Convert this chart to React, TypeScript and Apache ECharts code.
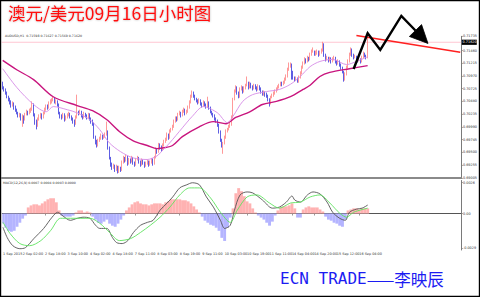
import React, { useEffect, useRef } from 'react';
import * as echarts from 'echarts';

// [open, close, low, high] hourly AUDUSD, 1 Sep 12:00 .. 16 Sep 10:00
const candles: number[][] = [
  [0.7081,0.7075,0.7071,0.7086],[0.7075,0.7071,0.7067,0.7077],[0.7071,0.7065,0.7061,0.7073],[0.7065,0.7057,0.7054,0.7067],[0.7057,0.7052,0.7048,0.7059],[0.7052,0.7046,0.7042,0.7055],[0.7046,0.7040,0.7036,0.7050],[0.7040,0.7044,0.7038,0.7048],[0.7044,0.7036,0.7032,0.7046],[0.7036,0.7032,0.7028,0.7040],
  [0.7032,0.7026,0.7023,0.7034],[0.7026,0.7021,0.7017,0.7028],[0.7021,0.7023,0.7017,0.7026],[0.7023,0.7017,0.7011,0.7025],[0.7017,0.7019,0.6999,0.7023],[0.7019,0.7013,0.7005,0.7021],[0.7013,0.7023,0.7011,0.7026],[0.7023,0.7028,0.7021,0.7032],[0.7028,0.7025,0.7021,0.7030],[0.7025,0.7030,0.7023,0.7034],
  [0.7030,0.7032,0.7026,0.7036],[0.7032,0.7042,0.7030,0.7048],[0.7042,0.7023,0.7019,0.7044],[0.7023,0.7009,0.7003,0.7025],[0.7009,0.7001,0.6994,0.7013],[0.7001,0.7013,0.6999,0.7017],[0.7013,0.7019,0.7011,0.7023],[0.7019,0.7023,0.7015,0.7026],[0.7023,0.7017,0.7013,0.7025],[0.7017,0.7025,0.7015,0.7028],
  [0.7025,0.7032,0.7023,0.7036],[0.7032,0.7038,0.7030,0.7042],[0.7038,0.7036,0.7032,0.7042],[0.7036,0.7044,0.7034,0.7048],[0.7044,0.7048,0.7042,0.7052],[0.7048,0.7050,0.7044,0.7054],[0.7050,0.7054,0.7048,0.7057],[0.7054,0.7046,0.7044,0.7055],[0.7046,0.7048,0.7042,0.7052],[0.7048,0.7042,0.7038,0.7050],
  [0.7042,0.7026,0.7023,0.7044],[0.7026,0.7019,0.7015,0.7028],[0.7019,0.7017,0.7013,0.7023],[0.7017,0.7023,0.7015,0.7026],[0.7023,0.7013,0.7009,0.7025],[0.7013,0.7017,0.7011,0.7021],[0.7017,0.7021,0.7015,0.7025],[0.7021,0.7025,0.7019,0.7028],[0.7025,0.7019,0.7015,0.7026],[0.7019,0.7015,0.7011,0.7021],
  [0.7015,0.7009,0.7005,0.7017],[0.7009,0.7005,0.6999,0.7013],[0.7005,0.7017,0.7003,0.7021],[0.7017,0.7026,0.7015,0.7061],[0.7026,0.7025,0.7021,0.7030],[0.7025,0.7028,0.7023,0.7032],[0.7028,0.7021,0.7017,0.7030],[0.7021,0.7017,0.7013,0.7023],[0.7017,0.7025,0.7015,0.7028],[0.7025,0.7021,0.7017,0.7026],
  [0.7021,0.7017,0.7013,0.7023],[0.7017,0.7023,0.7015,0.7026],[0.7023,0.7015,0.7011,0.7025],[0.7015,0.7009,0.7005,0.7017],[0.7009,0.7005,0.7001,0.7013],[0.7005,0.6980,0.6976,0.7007],[0.6980,0.6970,0.6965,0.6982],[0.6970,0.6963,0.6959,0.6974],[0.6963,0.6972,0.6961,0.6976],[0.6972,0.6976,0.6970,0.6980],
  [0.6976,0.6982,0.6974,0.6986],[0.6982,0.6978,0.6974,0.6984],[0.6978,0.6980,0.6976,0.6984],[0.6980,0.6984,0.6978,0.6988],[0.6984,0.6990,0.6982,0.7009],[0.6990,0.6959,0.6955,0.6992],[0.6959,0.6939,0.6936,0.6961],[0.6939,0.6926,0.6922,0.6941],[0.6926,0.6920,0.6916,0.6930],[0.6920,0.6924,0.6918,0.6928],
  [0.6924,0.6916,0.6912,0.6926],[0.6916,0.6922,0.6914,0.6926],[0.6922,0.6912,0.6909,0.6924],[0.6912,0.6920,0.6910,0.6924],[0.6920,0.6916,0.6912,0.6922],[0.6916,0.6930,0.6914,0.6934],[0.6930,0.6939,0.6928,0.6943],[0.6939,0.6934,0.6930,0.6941],[0.6934,0.6941,0.6932,0.6945],[0.6941,0.6928,0.6924,0.6943],
  [0.6928,0.6936,0.6926,0.6939],[0.6936,0.6932,0.6928,0.6938],[0.6932,0.6939,0.6930,0.6943],[0.6939,0.6930,0.6926,0.6941],[0.6930,0.6926,0.6922,0.6932],[0.6926,0.6936,0.6924,0.6939],[0.6936,0.6939,0.6934,0.6943],[0.6939,0.6932,0.6928,0.6941],[0.6932,0.6926,0.6922,0.6934],[0.6926,0.6934,0.6924,0.6938],
  [0.6934,0.6930,0.6926,0.6936],[0.6930,0.6924,0.6920,0.6932],[0.6924,0.6928,0.6922,0.6932],[0.6928,0.6932,0.6926,0.6936],[0.6932,0.6926,0.6922,0.6934],[0.6926,0.6930,0.6924,0.6934],[0.6930,0.6936,0.6928,0.6939],[0.6936,0.6928,0.6924,0.6938],[0.6928,0.6939,0.6926,0.6943],[0.6939,0.6955,0.6938,0.6959],
  [0.6955,0.6951,0.6947,0.6957],[0.6951,0.6965,0.6949,0.6968],[0.6965,0.6959,0.6955,0.6967],[0.6959,0.6955,0.6951,0.6963],[0.6955,0.6963,0.6953,0.6967],[0.6963,0.6970,0.6961,0.6974],[0.6970,0.6974,0.6968,0.6978],[0.6974,0.6984,0.6972,0.6988],[0.6984,0.6978,0.6974,0.6986],[0.6978,0.6990,0.6976,0.6994],
  [0.6990,0.6994,0.6988,0.6997],[0.6994,0.6999,0.6992,0.7003],[0.6999,0.7009,0.6997,0.7013],[0.7009,0.7015,0.7007,0.7019],[0.7015,0.7013,0.7009,0.7019],[0.7013,0.7023,0.7011,0.7026],[0.7023,0.7026,0.7021,0.7030],[0.7026,0.7021,0.7017,0.7028],[0.7021,0.7028,0.7019,0.7032],[0.7028,0.7032,0.7026,0.7036],
  [0.7032,0.7025,0.7021,0.7034],[0.7025,0.7028,0.7023,0.7032],[0.7028,0.7036,0.7026,0.7040],[0.7036,0.7046,0.7034,0.7050],[0.7046,0.7057,0.7044,0.7061],[0.7057,0.7065,0.7055,0.7069],[0.7065,0.7059,0.7055,0.7067],[0.7059,0.7054,0.7050,0.7061],[0.7054,0.7050,0.7046,0.7055],[0.7050,0.7046,0.7042,0.7052],
  [0.7046,0.7050,0.7044,0.7054],[0.7050,0.7044,0.7040,0.7052],[0.7044,0.7040,0.7036,0.7046],[0.7040,0.7046,0.7038,0.7050],[0.7046,0.7042,0.7038,0.7048],[0.7042,0.7038,0.7034,0.7044],[0.7038,0.7046,0.7036,0.7057],[0.7046,0.7036,0.7032,0.7048],[0.7036,0.7028,0.7025,0.7038],[0.7028,0.7025,0.7021,0.7030],
  [0.7025,0.7021,0.7017,0.7026],[0.7021,0.7015,0.7011,0.7023],[0.7015,0.7011,0.7007,0.7017],[0.7011,0.7003,0.6999,0.7013],[0.7003,0.6990,0.6986,0.7005],[0.6990,0.6974,0.6970,0.6992],[0.6974,0.6965,0.6959,0.6976],[0.6965,0.6967,0.6947,0.6970],[0.6967,0.6978,0.6965,0.6982],[0.6978,0.6990,0.6976,0.6994],
  [0.6990,0.6994,0.6988,0.6997],[0.6994,0.6999,0.6992,0.7003],[0.6999,0.7003,0.6997,0.7007],[0.7003,0.7017,0.7001,0.7021],[0.7017,0.7052,0.7015,0.7055],[0.7052,0.7067,0.7050,0.7071],[0.7067,0.7075,0.7065,0.7079],[0.7075,0.7065,0.7061,0.7077],[0.7065,0.7057,0.7054,0.7067],[0.7057,0.7071,0.7055,0.7075],
  [0.7071,0.7075,0.7069,0.7079],[0.7075,0.7067,0.7063,0.7077],[0.7067,0.7073,0.7065,0.7077],[0.7073,0.7079,0.7071,0.7082],[0.7079,0.7084,0.7077,0.7096],[0.7084,0.7075,0.7071,0.7086],[0.7075,0.7082,0.7073,0.7086],[0.7082,0.7077,0.7073,0.7084],[0.7077,0.7073,0.7069,0.7079],[0.7073,0.7079,0.7071,0.7082],
  [0.7079,0.7075,0.7071,0.7081],[0.7075,0.7071,0.7067,0.7077],[0.7071,0.7077,0.7069,0.7081],[0.7077,0.7073,0.7069,0.7079],[0.7073,0.7067,0.7063,0.7075],[0.7067,0.7063,0.7059,0.7069],[0.7063,0.7065,0.7059,0.7069],[0.7065,0.7061,0.7057,0.7067],[0.7061,0.7059,0.7055,0.7065],[0.7059,0.7052,0.7048,0.7061],
  [0.7052,0.7044,0.7038,0.7054],[0.7044,0.7055,0.7042,0.7059],[0.7055,0.7059,0.7054,0.7063],[0.7059,0.7063,0.7057,0.7067],[0.7063,0.7067,0.7061,0.7071],[0.7067,0.7071,0.7065,0.7075],[0.7071,0.7075,0.7069,0.7079],[0.7075,0.7079,0.7073,0.7082],[0.7079,0.7082,0.7077,0.7086],[0.7082,0.7081,0.7077,0.7086],
  [0.7081,0.7084,0.7079,0.7088],[0.7084,0.7090,0.7082,0.7094],[0.7090,0.7096,0.7088,0.7100],[0.7096,0.7109,0.7094,0.7113],[0.7109,0.7117,0.7107,0.7123],[0.7117,0.7119,0.7113,0.7123],[0.7119,0.7106,0.7090,0.7121],[0.7106,0.7094,0.7090,0.7107],[0.7094,0.7090,0.7086,0.7096],[0.7090,0.7092,0.7088,0.7096],
  [0.7092,0.7086,0.7084,0.7094],[0.7086,0.7094,0.7084,0.7098],[0.7094,0.7102,0.7092,0.7106],[0.7102,0.7113,0.7100,0.7117],[0.7113,0.7121,0.7111,0.7125],[0.7121,0.7129,0.7119,0.7133],[0.7129,0.7125,0.7121,0.7131],[0.7125,0.7133,0.7123,0.7136],[0.7133,0.7129,0.7125,0.7134],[0.7129,0.7138,0.7127,0.7142],
  [0.7138,0.7144,0.7136,0.7148],[0.7144,0.7148,0.7142,0.7152],[0.7148,0.7140,0.7136,0.7146],[0.7140,0.7142,0.7136,0.7146],[0.7142,0.7144,0.7138,0.7148],[0.7144,0.7138,0.7134,0.7146],[0.7138,0.7142,0.7136,0.7146],[0.7142,0.7146,0.7140,0.7150],[0.7146,0.7158,0.7144,0.7163],[0.7158,0.7138,0.7134,0.7160],
  [0.7138,0.7129,0.7125,0.7140],[0.7129,0.7133,0.7127,0.7136],[0.7133,0.7127,0.7123,0.7134],[0.7127,0.7131,0.7125,0.7134],[0.7131,0.7125,0.7121,0.7133],[0.7125,0.7129,0.7123,0.7133],[0.7129,0.7133,0.7127,0.7136],[0.7133,0.7125,0.7121,0.7134],[0.7125,0.7121,0.7117,0.7127],[0.7121,0.7125,0.7119,0.7129],
  [0.7125,0.7119,0.7115,0.7127],[0.7119,0.7113,0.7109,0.7121],[0.7113,0.7106,0.7102,0.7115],[0.7106,0.7090,0.7086,0.7107],[0.7090,0.7100,0.7088,0.7104],[0.7100,0.7113,0.7098,0.7117],[0.7113,0.7125,0.7111,0.7129],[0.7125,0.7138,0.7123,0.7142],[0.7138,0.7148,0.7136,0.7152],[0.7148,0.7138,0.7134,0.7150],
  [0.7138,0.7133,0.7129,0.7140],[0.7133,0.7134,0.7131,0.7138],[0.7134,0.7129,0.7125,0.7136],[0.7129,0.7127,0.7123,0.7133],[0.7127,0.7129,0.7125,0.7133],[0.7129,0.7125,0.7121,0.7131],[0.7125,0.7133,0.7123,0.7136],[0.7133,0.7140,0.7131,0.7144],[0.7140,0.7136,0.7133,0.7142],[0.7136,0.7133,0.7129,0.7138],
  [0.7133,0.7162,0.7131,0.7173],
];

// [bar index, value] read points of the moving averages
const slowMA: number[][] = [[0,0.7127],[10,0.7109],[22,0.709],[36,0.7057],[53,0.704],[64,0.703],[74,0.7013],[84,0.6988],[93,0.6972],[103,0.6963],[110,0.6957],[116,0.6959],[121,0.6963],[128,0.698],[140,0.6999],[150,0.7009],[159,0.7005],[166,0.7017],[176,0.7028],[185,0.7042],[195,0.7048],[205,0.7057],[214,0.7071],[219,0.7079],[226,0.7096],[233,0.7104],[247,0.7111],[260,0.7117]];
const fastMA: number[][] = [[0,0.7111],[10,0.7075],[22,0.7042],[31,0.7028],[36,0.7038],[46,0.7032],[53,0.7026],[62,0.7013],[69,0.6994],[76,0.6968],[84,0.6951],[93,0.6939],[103,0.6936],[110,0.6943],[113,0.6951],[119,0.6968],[128,0.6997],[135,0.7019],[143,0.7038],[153,0.7026],[160,0.7007],[164,0.7019],[171,0.7048],[178,0.7061],[188,0.7067],[197,0.7071],[205,0.7081],[212,0.7096],[219,0.7115],[226,0.7125],[235,0.7129],[245,0.7119],[252,0.7125],[260,0.7134]];

const macdMain: number[][] = [[0,-0.00116],[3,-0.00202],[7,-0.0027],[12,-0.00295],[16,-0.00286],[22,-0.0021],[29,-0.00125],[35,-0.00031],[39,0.00011],[42,-0.00014],[48,-0.00057],[53,-0.0004],[57,-0.00031],[62,-0.0004],[66,-0.00099],[69,-0.00125],[74,-0.00125],[78,-0.00201],[81,-0.00244],[85,-0.00252],[89,-0.00227],[93,-0.00159],[98,-0.00099],[103,-0.00074],[107,-0.00057],[112,0.00028],[117,0.00088],[121,0.00139],[126,0.00215],[131,0.00241],[135,0.00258],[140,0.00241],[145,0.00139],[150,0.00054],[155,-0.00057],[158,-0.00125],[162,-0.00099],[165,0.00028],[169,0.00156],[174,0.00181],[178,0.00173],[185,0.00113],[192,0.00045],[197,0.00054],[202,0.00096],[206,0.00147],[208,0.00113],[212,0.00096],[217,0.00156],[221,0.00181],[226,0.00164],[231,0.00096],[235,0.00011],[240,-0.0004],[244,-0.00057],[247,0.00011],[252,0.00037],[256,0.00045],[260,0.00071]];
const macdSignal: number[][] = [[0,-0.00074],[5,-0.00167],[12,-0.00252],[19,-0.0027],[27,-0.00227],[34,-0.00142],[41,-0.0004],[48,-0.0004],[55,-0.0004],[62,-0.0004],[69,-0.00082],[76,-0.00159],[83,-0.00227],[91,-0.0021],[98,-0.00159],[105,-0.00099],[112,-0.00031],[119,0.00054],[126,0.00156],[133,0.00215],[140,0.00215],[148,0.0013],[155,0.00011],[162,-0.00074],[167,0.00028],[174,0.00139],[181,0.00156],[190,0.00088],[197,0.00045],[205,0.00088],[212,0.00096],[219,0.00139],[226,0.00156],[233,0.00088],[240,0.00003],[245,-0.00031],[250,0.00011],[260,0.00045]];
const macdHist: number[][] = [[0,-0.00085],[2,-0.00119],[4,-0.00145],[6,-0.00153],[8,-0.00145],[10,-0.00111],[12,-0.00077],[14,-0.00043],[16,-0.00017],[18,0.00051],[20,0.00068],[22,0.00077],[24,0.00077],[26,0.00068],[28,0.00085],[30,0.00102],[32,0.00119],[34,0.00128],[36,0.00128],[38,0.00094],[40,0.00026],[42,-0.00017],[44,-0.00026],[46,-0.00026],[48,-0.00026],[50,-0.00017],[52,0.00009],[54,0.00026],[56,0.00026],[58,0.00009],[60,0.00017],[62,0.00009],[64,-0.00026],[66,-0.00051],[68,-0.00077],[70,-0.00085],[72,-0.00068],[74,-0.00051],[76,-0.00085],[78,-0.00102],[80,-0.00111],[82,-0.00085],[84,-0.00051],[86,-0.00017],[88,0.00026],[90,0.00051],[92,0.00077],[94,0.00094],[96,0.00102],[98,0.00085],[100,0.00077],[102,0.00077],[104,0.00068],[106,0.00077],[108,0.00085],[110,0.00085],[112,0.00085],[114,0.00077],[116,0.00094],[118,0.00102],[120,0.00119],[122,0.00119],[124,0.00119],[126,0.00119],[128,0.00111],[130,0.00111],[132,0.00102],[134,0.00085],[136,0.0006],[138,0.00034],[140,0.00009],[142,-0.00026],[144,-0.0006],[146,-0.00077],[148,-0.00094],[150,-0.00102],[152,-0.00119],[154,-0.00145],[156,-0.00204],[158,-0.0023],[160,-0.00119],[162,-0.00034],[164,0.00043],[166,0.0017],[168,0.00213],[170,0.00187],[172,0.00145],[174,0.00102],[176,0.00085],[178,0.00043],[180,0.00009],[182,-0.00017],[184,-0.00034],[186,-0.00051],[188,-0.00077],[190,-0.00102],[192,-0.00068],[194,-0.00017],[196,0.00026],[198,0.00051],[200,0.0006],[202,0.0006],[204,0.00068],[206,0.00085],[208,0.00043],[210,-0.00034],[212,-0.00034],[214,0.00034],[216,0.00051],[218,0.0006],[220,0.00051],[222,0.00051],[224,0.00051],[226,0.00034],[228,0.00017],[230,-0.00026],[232,-0.00051],[234,-0.0006],[236,-0.00077],[238,-0.00085],[240,-0.00102],[242,-0.00111],[244,-0.00051],[246,0.00026],[248,0.00034],[250,0.00043],[252,0.00043],[254,0.00034],[256,0.00043],[258,0.00043],[260,0.00043]];

const categoryCount = 327;
const timeLabelIndex = [0, 14, 30, 46, 62, 78, 94, 110, 126, 142, 158, 174, 190, 206, 222, 238, 254];
const timeLabels = ['1 Sep 2015','2 Sep 02:00','2 Sep 18:00','3 Sep 10:00','4 Sep 02:00','4 Sep 18:00','7 Sep 11:00','8 Sep 03:00','8 Sep 19:00','9 Sep 11:00','10 Sep 03:00','10 Sep 19:00','11 Sep 11:00','14 Sep 04:00','14 Sep 20:00','15 Sep 12:00','16 Sep 04:00'];
const priceTicks = [0.69005, 0.69255, 0.695, 0.69745, 0.6999, 0.70235, 0.7048, 0.70725, 0.7097, 0.71215, 0.7146, 0.71735];
const priceMin = 0.69005;
const priceMax = 0.71735;
const macdTicks = [0.0026, 0, -0.0029];
const macdTickLabels = ['0.0026', '0.00', '-0.0029'];
const macdMin = -0.00306;
const macdMax = 0.00277;
const lastPrice = 0.7162;

// analyst drawings, in [bar index, price]
const trendLine: number[][] = [[252, 0.7175], [326, 0.71427]];
const zigzag: number[][] = [[250, 0.71105], [260, 0.71794], [269, 0.71471], [284, 0.72127], [303, 0.71597]];

const titleText = '澳元/美元09月16日小时图';
const footerLatin = 'ECN TRADE';
const footerCjk = '——李映辰';
const priceInfo = 'AUDUSD,H1  0.71598 0.71627 0.71569 0.71620';
const macdInfo = 'MACD(12,26,9) 0.0007 0.0004 0.0003 0.0000';

export default function App() {
  const ref = useRef<HTMLDivElement>(null);
  useEffect(() => {
    document.body.style.margin = '0';
    const chart = echarts.init(ref.current as HTMLDivElement, null, { renderer: 'svg' });
    const categories = Array.from({ length: categoryCount }, (_, i) => String(i));
    const labelAt: Record<number, string> = {};
    timeLabelIndex.forEach((idx, k) => { labelAt[idx] = timeLabels[k]; });
    const small = 'DejaVu Sans';
    chart.setOption({
      animation: false,
      backgroundColor: '#ffffff',
      grid: [
        { left: 2, top: 36.3, width: 459, height: 141.6 },
        { left: 2, top: 180.5, width: 459, height: 69.5 },
      ],
      xAxis: [
        {
          type: 'category', gridIndex: 0, data: categories, boundaryGap: true,
          axisLine: { show: true, lineStyle: { color: '#8a8a8a', width: 2 } },
          axisTick: { show: false }, axisLabel: { show: false }, splitLine: { show: false },
        },
        {
          type: 'category', gridIndex: 1, data: categories, boundaryGap: true,
          axisLine: { show: true, lineStyle: { color: '#555', width: 1 } },
          axisTick: { show: true, alignWithLabel: true, interval: (i: number) => labelAt[i] !== undefined, length: 2, lineStyle: { color: '#555', width: 0.6 } },
          axisLabel: {
            interval: (i: number) => labelAt[i] !== undefined,
            formatter: (_v: string, i: number) => labelAt[i] ?? '',
            align: 'left', fontSize: 3.4, color: '#333', margin: 2, fontFamily: small,
          },
          splitLine: { show: false },
        },
      ],
      yAxis: [
        {
          type: 'value', gridIndex: 0, position: 'right', min: priceMin, max: priceMax,
          axisLine: { show: true, lineStyle: { color: '#7a7a7a', width: 1 } },
          axisTick: { show: true, length: 2, customValues: priceTicks, lineStyle: { color: '#7a7a7a', width: 0.6 } },
          axisLabel: { customValues: priceTicks, formatter: (v: number) => v.toFixed(5), fontSize: 3.4, color: '#333', margin: 2, fontFamily: small },
          splitLine: { show: false },
        },
        {
          type: 'value', gridIndex: 1, position: 'right', min: macdMin, max: macdMax,
          axisLine: { show: true, lineStyle: { color: '#7a7a7a', width: 1 } },
          axisTick: { show: true, length: 2, customValues: macdTicks, lineStyle: { color: '#7a7a7a', width: 0.6 } },
          axisLabel: {
            customValues: macdTicks,
            formatter: (v: number) => { const k = macdTicks.findIndex((t) => Math.abs(t - v) < 1e-9); return k >= 0 ? macdTickLabels[k] : ''; },
            fontSize: 3.4, color: '#333', margin: 2, fontFamily: small,
          },
          splitLine: { show: false },
        },
      ],
      series: [
        {
          type: 'candlestick', xAxisIndex: 0, yAxisIndex: 0, data: candles, barWidth: 1.3, z: 3,
          itemStyle: { color: '#ff6e6e', color0: '#1e1ed2', borderColor: '#ff8080', borderColor0: '#3535dc', borderWidth: 0.8 },
        },
        { type: 'line', xAxisIndex: 0, yAxisIndex: 0, data: slowMA, smooth: 0.3, showSymbol: false, z: 4, lineStyle: { color: '#c8157e', width: 1.4 } },
        { type: 'line', xAxisIndex: 0, yAxisIndex: 0, data: fastMA, smooth: 0.3, showSymbol: false, z: 4, lineStyle: { color: '#d68be6', width: 0.9 } },
        {
          type: 'bar', xAxisIndex: 1, yAxisIndex: 1, data: macdHist, barWidth: 2.9,
          itemStyle: { color: (p: any) => (p.value[1] >= 0 ? '#ffb2b2' : '#b4b4ff') },
        },
        { type: 'line', xAxisIndex: 1, yAxisIndex: 1, data: macdMain, smooth: 0.3, showSymbol: false, lineStyle: { color: '#555', width: 0.9 } },
        { type: 'line', xAxisIndex: 1, yAxisIndex: 1, data: macdSignal, smooth: 0.3, showSymbol: false, lineStyle: { color: '#5fe35f', width: 0.9 } },
      ],
    });

    // annotation geometry through the chart's own scales
    const toPx = (p: number[]) => chart.convertToPixel({ gridIndex: 0 }, p) as unknown as number[];
    const bidL = toPx([0, lastPrice]);
    const bidR = toPx([categoryCount - 1, lastPrice]);
    const trendPx = trendLine.map(toPx);
    const zigPx = zigzag.map(toPx);
    const tip = zigPx[zigPx.length - 1];
    const prev = zigPx[zigPx.length - 2];
    const dx = tip[0] - prev[0];
    const dy = tip[1] - prev[1];
    const len = Math.sqrt(dx * dx + dy * dy);
    const ux = dx / len, uy = dy / len;
    const headLen = 18, headHalf = 8.5;
    const baseC = [tip[0] - ux * headLen, tip[1] - uy * headLen];
    const wing1 = [baseC[0] - uy * headHalf, baseC[1] + ux * headHalf];
    const wing2 = [baseC[0] + uy * headHalf, baseC[1] - ux * headHalf];
    const zigLine = [...zigPx.slice(0, -1), baseC];

    chart.setOption({
      graphic: [
        {
          type: 'line', z: 1, silent: true,
          shape: { x1: bidL[0] - 1, y1: bidL[1], x2: bidR[0] + 1, y2: bidR[1] },
          style: { stroke: '#ffc6d2', lineWidth: 1 },
        },
        {
          type: 'rect', z: 20, silent: true,
          shape: { x: bidR[0] + 1.5, y: bidR[1] - 2.6, width: 15, height: 5.2 },
          style: { fill: '#000' },
        },
        {
          type: 'text', z: 21, silent: true, x: bidR[0] + 2.3, y: bidR[1],
          style: { text: lastPrice.toFixed(5), fill: '#fff', fontSize: 3.4, fontFamily: small, verticalAlign: 'middle' },
        },
        {
          type: 'line', z: 20, silent: true,
          shape: { x1: trendPx[0][0], y1: trendPx[0][1], x2: trendPx[1][0], y2: trendPx[1][1] },
          style: { stroke: '#ff2020', lineWidth: 1.5 },
        },
        {
          type: 'polyline', z: 21, silent: true,
          shape: { points: zigLine },
          style: { stroke: '#000', lineWidth: 2.4, fill: 'none', lineJoin: 'miter' },
        },
        {
          type: 'polygon', z: 22, silent: true,
          shape: { points: [tip, wing1, wing2] },
          style: { fill: '#000', stroke: '#000', lineWidth: 0.8, lineJoin: 'miter' },
        },
        {
          type: 'text', x: 8, y: 4, z: 20,
          style: { text: titleText, fill: '#ff1010', fontSize: 17.5, fontFamily: 'Noto Sans CJK SC', textShadowColor: 'rgba(0,0,0,0.3)', textShadowBlur: 2 },
        },
        {
          type: 'text', x: 5, y: 36, z: 20,
          style: { text: priceInfo, fill: '#333', fontSize: 3.2, fontFamily: small, verticalAlign: 'middle' },
        },
        {
          type: 'text', x: 3, y: 183.3, z: 20,
          style: { text: macdInfo, fill: '#333', fontSize: 3.2, fontFamily: small, verticalAlign: 'middle' },
        },
        {
          type: 'text', x: 280, y: 278.5, z: 20,
          style: {
            text: `{a|${footerLatin}}{b|${footerCjk}}`,
            verticalAlign: 'middle',
            rich: {
              a: { fill: '#1c1cf2', fontSize: 16, fontFamily: 'DejaVu Sans Mono' },
              b: { fill: '#1c1cf2', fontSize: 16.5, fontFamily: 'Noto Sans CJK SC' },
            },
          },
        },
        {
          type: 'rect', z: 30, silent: true,
          shape: { x: 0.5, y: 0.5, width: 479, height: 296 },
          style: { fill: 'none', stroke: '#000', lineWidth: 1.4 },
        },
      ],
    });
    return () => chart.dispose();
  }, []);
  return <div ref={ref} style={{ width: 480, height: 297 }} />;
}
